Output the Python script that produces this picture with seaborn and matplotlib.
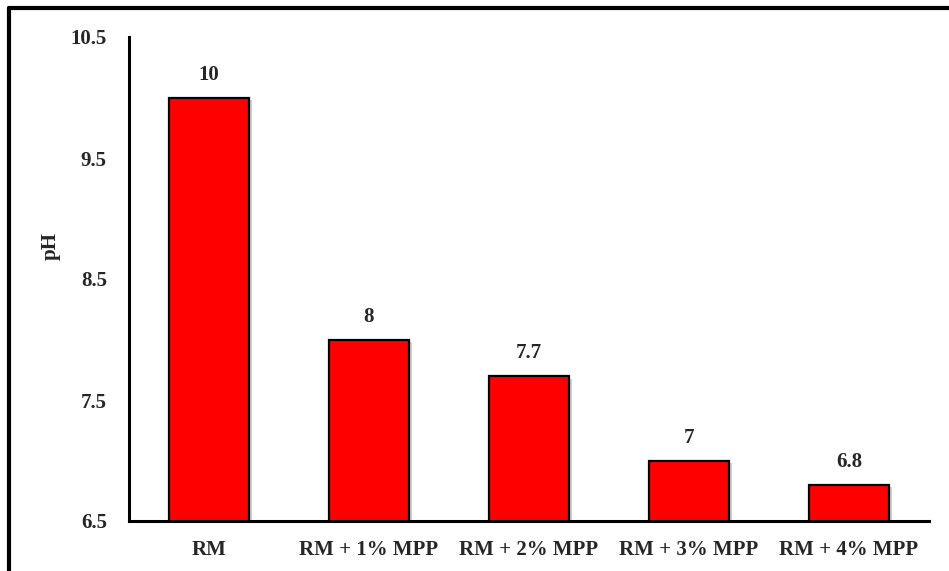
import matplotlib.pyplot as plt
import matplotlib.patheffects as pe
from matplotlib.lines import Line2D
import seaborn as sns
import pandas as pd

categories = ["RM", "RM + 1% MPP", "RM + 2% MPP", "RM + 3% MPP", "RM + 4% MPP"]
ph_values = [10, 8, 7.7, 7, 6.8]
value_labels = ["10", "8", "7.7", "7", "6.8"]
y_ticks = [6.5, 7.5, 8.5, 9.5, 10.5]

df = pd.DataFrame({"sample": categories, "pH": ph_values})

sns.set_style("white")
plt.rcParams['font.family'] = ['Liberation Serif', 'DejaVu Serif']
plt.rcParams['font.weight'] = 'bold'

fig = plt.figure(figsize=(9.49, 5.71), dpi=100)
ax = fig.add_axes([129 / 949, 1 - 521 / 571, 800 / 949, 484 / 571])

sns.barplot(data=df, x="sample", y="pH", color="#ff0000", saturation=1,
            width=0.5, edgecolor="black", linewidth=1.6, ax=ax)

# soft shadow behind the bars, as in the original
for bar in ax.patches:
    bar.set_path_effects([pe.SimplePatchShadow(offset=(2, -2), shadow_rgbFace="gray", alpha=0.35),
                          pe.Normal()])

ax.bar_label(ax.containers[0], labels=value_labels, padding=9,
             fontsize=15, fontweight="bold")

ax.set_ylim(6.5, 10.5)
ax.set_xlim(-0.5, 4.5)
ax.set_yticks(y_ticks)
ax.set_yticklabels([str(t) for t in y_ticks])
ax.tick_params(axis="both", length=0, labelsize=15)
ax.tick_params(axis="x", pad=14)
ax.tick_params(axis="y", pad=16)
for lab in ax.get_xticklabels() + ax.get_yticklabels():
    lab.set_fontweight("bold")

ax.set_xlabel("")
ax.set_ylabel("pH", fontsize=15, fontweight="bold")
ax.yaxis.set_label_coords(-0.086, 0.568)

sns.despine(ax=ax)
for side in ["left", "bottom"]:
    ax.spines[side].set_linewidth(2.2)
    ax.spines[side].set_color("black")

# outer frame (only left and top edges are visible in the original crop)
fig.add_artist(Line2D([9 / 949, 9 / 949], [0, 1 - 7.5 / 571], transform=fig.transFigure,
                      color="black", linewidth=3))
fig.add_artist(Line2D([9 / 949, 1], [1 - 7.5 / 571, 1 - 7.5 / 571], transform=fig.transFigure,
                      color="black", linewidth=3))

fig.savefig("out.png", dpi=100)
